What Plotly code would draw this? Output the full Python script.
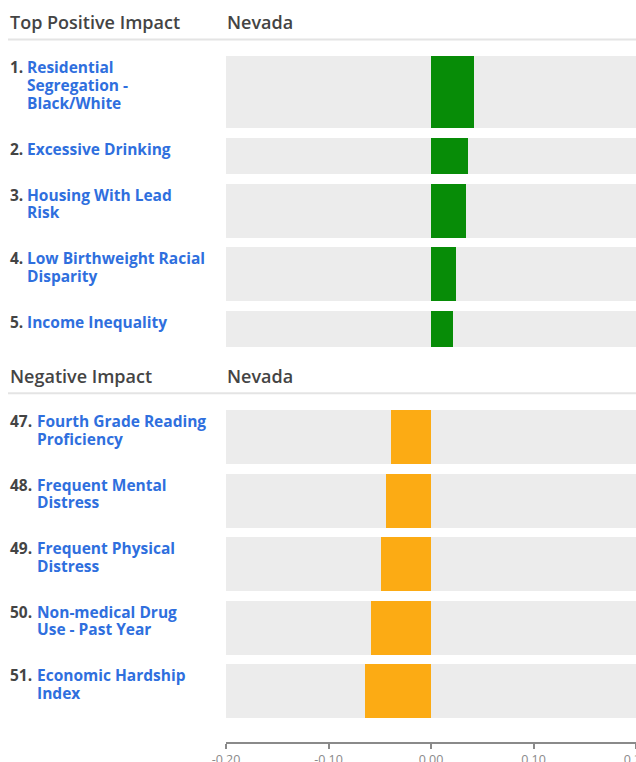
import plotly.graph_objects as go

# ---------------- data ----------------
pos_ranks = [1, 2, 3, 4, 5]
pos_labels = ["Residential<br>Segregation -<br>Black/White",
              "Excessive Drinking",
              "Housing With Lead<br>Risk",
              "Low Birthweight Racial<br>Disparity",
              "Income Inequality"]
pos_values = [0.042, 0.036, 0.034, 0.024, 0.021]

neg_ranks = [47, 48, 49, 50, 51]
neg_labels = ["Fourth Grade Reading<br>Proficiency",
              "Frequent Mental<br>Distress",
              "Frequent Physical<br>Distress",
              "Non-medical Drug<br>Use - Past Year",
              "Economic Hardship<br>Index"]
neg_values = [-0.039, -0.044, -0.049, -0.059, -0.064]

tick_vals = [-0.2, -0.1, 0.0, 0.1, 0.2]
tick_text = ["-0.20", "-0.10", "0.00", "0.10", "0.20"]
state = "Nevada"

# ---------------- layout constants ----------------
W, H = 636, 762
ML, MB, MT = 226, 20, 0
PW = W - ML
PH = H - MB - MT
XMIN, XMAX = -0.2, 0.2

GREEN = "#078c07"
ORANGE = "#fcab14"
BG = "#ececec"
BLUE = "#2f6fde"
DARK = "#444444"
FONT = "Open Sans"

LINE_H = 18
GAP = 9.6


def px_x(px):
    return (px - ML) / PW


def px_y(py):
    return (PH + MT - py) / PH


def layout_rows(start, labels):
    tops, heights = [], []
    y = start
    for lab in labels:
        n = len(lab.split("<br>"))
        h = LINE_H * (n + 1)
        tops.append(y)
        heights.append(h)
        y += h + GAP
    return tops, heights, y - GAP


fig = go.Figure()
annotations = []
shapes = []


def add_section(header, header_y, labels, ranks, values, color):
    line_y = header_y + 17.5
    start = line_y + 16.8
    tops, heights, end = layout_rows(start, labels)
    centers = [t + h / 2 for t, h in zip(tops, heights)]
    # background bars
    fig.add_trace(go.Bar(
        orientation="h", y=centers, x=[XMAX - XMIN] * len(values), base=XMIN,
        width=heights, marker=dict(color=BG, line=dict(width=0)),
        hoverinfo="skip", showlegend=False))
    # value bars
    fig.add_trace(go.Bar(
        orientation="h", y=centers, x=values, base=0,
        width=heights, marker=dict(color=color, line=dict(width=0)),
        showlegend=False))
    # header texts
    hfont = dict(family=FONT, size=18, color=DARK, weight=600)
    annotations.append(dict(text=header, x=px_x(8), y=px_y(header_y),
                            xref="paper", yref="paper", xanchor="left", yanchor="middle",
                            showarrow=False, font=hfont))
    annotations.append(dict(text=state, x=px_x(225), y=px_y(header_y),
                            xref="paper", yref="paper", xanchor="left", yanchor="middle",
                            showarrow=False, font=hfont))
    shapes.append(dict(type="line", xref="paper", yref="paper",
                       x0=px_x(8), x1=1, y0=px_y(line_y), y1=px_y(line_y),
                       line=dict(color="#e4e4e4", width=2)))
    # row labels
    for t, lab, r in zip(tops, labels, ranks):
        rank_txt = f"{r}."
        annotations.append(dict(text=rank_txt, x=px_x(8), y=px_y(t + 11),
                                xref="paper", yref="paper", xanchor="left", yanchor="middle",
                                showarrow=False, font=dict(family=FONT, size=15.5, color=DARK, weight=700)))
        tx = 5 + 10 * len(rank_txt)
        for i, line in enumerate(lab.split("<br>")):
            annotations.append(dict(text=line, x=px_x(tx), y=px_y(t + 11 + i * 17.6),
                                    xref="paper", yref="paper", xanchor="left", yanchor="middle",
                                    showarrow=False, font=dict(family=FONT, size=15.5, color=BLUE, weight=700)))
    return end


end1 = add_section("Top Positive Impact", 22, pos_labels, pos_ranks, pos_values, GREEN)
end2 = add_section("Negative Impact", end1 + 29, neg_labels, neg_ranks, neg_values, ORANGE)

fig.update_layout(
    width=W, height=H,
    margin=dict(l=ML, r=0, t=MT, b=MB, pad=0, autoexpand=False),
    paper_bgcolor="white", plot_bgcolor="white",
    barmode="overlay", bargap=0,
    annotations=annotations, shapes=shapes,
    xaxis=dict(range=[XMIN, XMAX], tickvals=tick_vals, ticktext=tick_text,
               showgrid=False, zeroline=False, showline=True, linecolor="#8a8a8a", linewidth=1.5,
               ticks="outside", ticklen=5, tickcolor="#8a8a8a", tickwidth=1.5,
               ticklabeloverflow="allow", automargin=False,
               tickfont=dict(family=FONT, size=12.5, color="#8a8a8a"), fixedrange=True),
    yaxis=dict(range=[PH + MT, MT], visible=False, fixedrange=True, automargin=False),
)

fig.write_html("out.html", config={"displayModeBar": False},
               post_script="document.body.style.margin='0';document.body.style.padding='0';")
